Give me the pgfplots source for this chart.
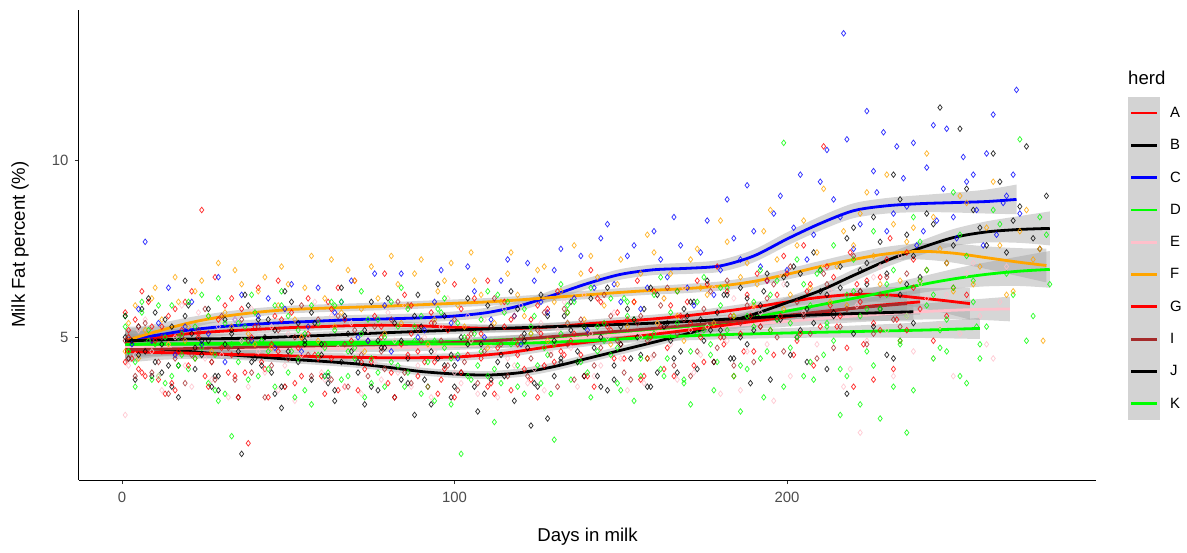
\documentclass[border=0pt]{standalone}
\usepackage{fontspec}
\setmainfont{Liberation Sans}
\usepackage{pgfplots}
\pgfplotsset{compat=1.18}
\usepgfplotslibrary{fillbetween}
\usepackage{pgfplotstable}

\definecolor{hA}{HTML}{FF0000}
\definecolor{hB}{HTML}{000000}
\definecolor{hC}{HTML}{0000FF}
\definecolor{hD}{HTML}{00FF00}
\definecolor{hE}{HTML}{FFC0CB}
\definecolor{hF}{HTML}{FFA500}
\definecolor{hG}{HTML}{FF0000}
\definecolor{hI}{HTML}{A52A2A}
\definecolor{hJ}{HTML}{000000}
\definecolor{hK}{HTML}{00FF00}
\definecolor{bandgrey}{HTML}{999999}
\definecolor{keygrey}{HTML}{D3D3D3}
\definecolor{txtgrey}{HTML}{4D4D4D}

% loess fits per herd: x, fitted value, half-width of the confidence band
\pgfplotstableread{
x y w
1 4.85 0.32
10 4.98 0.22
20 5.10 0.16
30 5.17 0.13
40 5.22 0.12
50 5.27 0.11
60 5.30 0.11
70 5.33 0.11
80 5.34 0.11
90 5.32 0.11
100 5.28 0.11
110 5.25 0.11
120 5.25 0.11
130 5.30 0.11
140 5.38 0.11
150 5.45 0.12
160 5.52 0.12
170 5.61 0.12
180 5.72 0.13
190 5.85 0.14
200 6.00 0.15
210 6.13 0.16
220 6.21 0.18
230 6.20 0.22
240 6.11 0.28
248 6.03 0.36
255 5.95 0.45
}\smA
\pgfplotstableread{
x y w
1 4.75 0.32
10 4.68 0.22
20 4.60 0.16
30 4.52 0.13
40 4.45 0.12
50 4.38 0.11
60 4.32 0.11
70 4.25 0.11
80 4.15 0.11
90 4.03 0.11
100 3.96 0.11
110 3.93 0.11
120 4.00 0.12
130 4.17 0.12
140 4.40 0.12
150 4.63 0.12
160 4.86 0.12
170 5.10 0.12
180 5.37 0.13
190 5.65 0.14
200 5.98 0.15
210 6.32 0.16
220 6.75 0.17
230 7.17 0.18
240 7.52 0.20
250 7.82 0.24
260 7.98 0.30
270 8.05 0.38
279 8.08 0.48
}\smB
\pgfplotstableread{
x y w
2 4.95 0.35
10 5.05 0.25
20 5.20 0.18
30 5.30 0.15
40 5.37 0.13
50 5.42 0.13
60 5.46 0.13
70 5.50 0.13
80 5.52 0.13
90 5.55 0.13
100 5.60 0.13
110 5.70 0.14
120 5.90 0.14
130 6.20 0.15
140 6.52 0.15
150 6.78 0.15
160 6.91 0.15
170 6.95 0.16
180 7.02 0.17
190 7.30 0.18
200 7.78 0.19
210 8.22 0.20
220 8.58 0.21
230 8.72 0.22
240 8.78 0.24
250 8.81 0.28
260 8.84 0.34
269 8.90 0.42
}\smC
\pgfplotstableread{
x y w
1 4.80 0.32
10 4.81 0.22
20 4.82 0.16
30 4.83 0.13
40 4.84 0.12
60 4.85 0.11
80 4.86 0.11
100 4.88 0.11
120 4.95 0.12
140 5.05 0.12
160 5.20 0.13
180 5.40 0.14
200 5.74 0.16
220 6.10 0.19
240 6.48 0.23
250 6.65 0.28
260 6.78 0.34
270 6.87 0.42
279 6.92 0.52
}\smD
\pgfplotstableread{
x y w
1 4.72 0.32
10 4.71 0.22
20 4.70 0.16
30 4.69 0.13
40 4.68 0.12
60 4.68 0.11
80 4.70 0.11
100 4.75 0.11
120 4.85 0.12
140 5.00 0.12
160 5.15 0.13
180 5.30 0.14
200 5.45 0.15
220 5.60 0.18
240 5.72 0.22
255 5.78 0.28
267 5.80 0.35
}\smE
\pgfplotstableread{
x y w
1 4.90 0.32
10 5.15 0.22
20 5.40 0.16
30 5.58 0.13
40 5.70 0.12
50 5.78 0.11
60 5.82 0.11
70 5.85 0.11
80 5.88 0.11
90 5.92 0.11
100 5.96 0.11
110 6.00 0.11
120 6.06 0.11
130 6.13 0.11
140 6.20 0.12
150 6.27 0.12
160 6.33 0.12
170 6.38 0.13
180 6.45 0.13
190 6.58 0.14
200 6.78 0.15
210 7.00 0.16
220 7.20 0.18
230 7.36 0.20
240 7.43 0.23
250 7.38 0.27
260 7.25 0.32
270 7.12 0.40
278 7.03 0.48
}\smF
\pgfplotstableread{
x y w
1 4.60 0.32
10 4.57 0.22
20 4.55 0.16
30 4.52 0.13
40 4.50 0.12
60 4.45 0.11
80 4.42 0.11
100 4.44 0.11
115 4.55 0.12
130 4.75 0.12
150 4.97 0.12
170 5.20 0.13
190 5.45 0.15
210 5.70 0.18
225 5.88 0.24
240 6.00 0.36
}\smG
\pgfplotstableread{
x y w
1 4.65 0.32
10 4.66 0.22
20 4.68 0.16
30 4.70 0.13
40 4.72 0.12
60 4.76 0.11
80 4.80 0.11
100 4.85 0.11
120 4.95 0.12
140 5.10 0.12
160 5.25 0.13
180 5.42 0.14
200 5.62 0.17
220 5.82 0.24
236 5.95 0.34
}\smI
\pgfplotstableread{
x y w
1 4.90 0.32
10 4.92 0.22
20 4.95 0.16
30 4.96 0.13
40 4.98 0.12
60 5.05 0.11
80 5.13 0.11
100 5.20 0.11
120 5.27 0.11
140 5.33 0.12
160 5.40 0.12
180 5.50 0.13
200 5.60 0.15
220 5.67 0.19
238 5.72 0.28
}\smJ
\pgfplotstableread{
x y w
1 4.80 0.32
10 4.80 0.22
20 4.80 0.16
30 4.80 0.13
40 4.80 0.12
60 4.80 0.11
80 4.82 0.11
100 4.81 0.11
120 4.83 0.12
140 4.90 0.12
160 5.00 0.12
180 5.07 0.13
200 5.12 0.14
220 5.16 0.17
240 5.20 0.22
258 5.25 0.30
}\smK

% band + fitted line for one herd: #1 table, #2 colour, #3 path name
\newcommand{\smoothband}[3]{%
  \addplot[draw=none, smooth, name path=#3u, forget plot] table[x=x, y expr=\thisrow{y}+\thisrow{w}]{#1};
  \addplot[draw=none, smooth, name path=#3l, forget plot] table[x=x, y expr=\thisrow{y}-\thisrow{w}]{#1};
  \addplot[fill=bandgrey, fill opacity=0.4, draw=none, forget plot] fill between[of=#3u and #3l];
  \addplot[#2, line width=2.8pt, smooth] table[x=x, y=y]{#1};
}

\pgfplotsset{herdpts/.style={only marks, mark=diamond, mark size=2.8pt,
    mark options={line width=0.75pt, draw opacity=0.8}, forget plot}}

\begin{document}
\begin{tikzpicture}
\begin{axis}[
  scale only axis, width=1017pt, height=470pt,
  xmin=-12.9, xmax=292.9, ymin=0.96, ymax=14.26,
  axis x line*=bottom, axis y line*=left,
  axis line style={line width=1pt, black},
  xtick={0,100,200}, ytick={5,10},
  tick align=outside, major tick length=4pt,
  tick style={line width=0.8pt, black!80},
  /pgf/number format/assume math mode=true,
  ticklabel style={font=\fontsize{14.9}{16}\selectfont, text=txtgrey},
  xticklabel style={yshift=-5pt},
  yticklabel style={xshift=-3pt},
  xlabel={Days in milk}, ylabel={Milk Fat percent (\%)},
  label style={font=\fontsize{18.6}{20}\selectfont},
  xlabel style={at={(axis description cs:0.5,0)}, anchor=center, yshift=-57pt},
  ylabel style={at={(axis description cs:-0.058,0.501)}, anchor=center},
  legend cell align=left,
  legend style={at={(axis description cs:1.0315,0.8152)}, anchor=north west,
    draw=none, fill=none, inner sep=0pt, outer sep=0pt, row sep=0pt, column sep=10pt,
    font=\fontsize{14.9}{16}\selectfont, nodes={inner sep=0pt, outer sep=0pt}},
  legend image code/.code={%
    \path[fill=keygrey, draw=none, overlay] (0pt,-16.4pt) rectangle (32pt,16.4pt);
    \path[draw=none, fill=none] (0pt,-16.15pt) rectangle (32pt,16.15pt);
    \draw[#1, line width=2.8pt] (3pt,0pt) -- (29pt,0pt);
  },
]
% ---- observations ----
\addplot[herdpts, hA] coordinates {(2,5.2) (5,4.1) (8,6.0) (11,3.8) (14,5.6) (17,4.6) (21,6.3) (24,8.6) (27,4.3) (31,5.9) (34,3.9) (38,2.0) (41,6.4) (45,4.8) (48,5.5) (52,3.7) (56,6.1) (59,4.4) (63,5.8) (67,3.6) (70,6.6) (74,4.9) (78,5.3) (81,4.0) (85,6.2) (89,4.6) (93,5.7) (96,3.8) (100,6.5) (104,4.5) (108,5.1) (111,3.7) (115,6.0) (119,4.8) (123,5.5) (127,4.2) (131,6.3) (135,4.9) (139,3.9) (143,6.1) (147,5.2) (151,4.4) (155,6.6) (159,5.0) (163,4.1) (167,6.3) (171,5.4) (175,4.3) (179,7.0) (183,5.6) (187,4.6) (191,6.8) (195,5.2) (199,7.3) (203,4.9) (207,6.5) (211,10.4) (215,5.3) (219,7.4) (223,4.8) (228,6.7) (233,5.5) (238,7.2) (244,4.9) (250,6.4)
 (1,5.7) (3,4.4) (6,6.3) (9,4.9) (12,5.3) (16,3.5) (19,6.0) (23,5.0) (28,6.7) (33,4.5) (36,5.8) (43,4.1) (47,6.6) (54,5.0) (61,3.4) (65,6.4) (72,4.3) (79,6.8) (87,5.1) (94,4.3) (102,5.8) (110,6.6) (117,3.5) (125,5.9) (133,4.5) (141,6.9) (149,5.7) (157,3.9) (165,5.9) (173,6.6) (181,4.8) (189,5.6) (197,6.2) (205,7.6) (213,5.9) (221,6.5) (226,3.8) (231,7.8) (236,5.2) (242,6.9) (248,5.6) (254,6.2)};
\addplot[herdpts, hB] coordinates {(2,4.4) (5,5.3) (9,3.9) (12,4.8) (15,3.6) (19,5.6) (22,4.1) (26,4.9) (29,3.5) (33,5.2) (36,1.7) (39,4.3) (43,5.0) (46,3.4) (50,4.6) (53,5.4) (57,3.8) (60,4.5) (64,3.2) (68,5.1) (71,4.0) (75,3.6) (79,4.7) (82,3.3) (86,4.4) (90,5.3) (93,3.1) (97,4.2) (100,3.6) (104,4.8) (107,2.9) (111,3.8) (114,4.5) (118,3.2) (121,4.9) (125,3.6) (128,2.7) (132,4.3) (135,5.2) (139,3.9) (142,4.7) (146,3.5) (150,5.3) (153,4.4) (157,5.8) (161,4.0) (164,5.4) (168,4.6) (172,6.0) (175,4.9) (179,5.7) (183,4.4) (186,6.4) (190,5.2) (194,6.8) (198,5.5) (202,7.0) (206,5.8) (210,6.9) (214,5.6) (218,7.8) (222,6.3) (226,8.4) (230,6.8) (234,8.9) (238,7.3) (242,8.5) (246,11.5) (250,7.6) (254,9.2) (258,8.1) (262,10.2) (266,7.4) (270,8.7) (274,7.8) (278,9.0)
 (1,5.0) (4,3.8) (7,4.6) (10,5.7) (14,4.2) (17,3.3) (21,5.1) (24,4.5) (28,3.9) (31,4.8) (35,3.3) (41,5.5) (45,4.0) (48,3.0) (55,4.9) (62,3.7) (66,4.3) (73,3.1) (77,4.9) (84,3.8) (88,2.8) (95,4.4) (99,3.3) (102,4.0) (109,3.4) (116,4.2) (123,2.5) (130,3.9) (137,4.6) (144,3.6) (148,4.2) (155,5.0) (159,3.6) (166,4.4) (170,5.6) (177,5.2) (181,6.2) (188,4.8) (192,5.9) (200,6.5) (204,5.2) (208,7.4) (212,6.2) (216,7.0) (220,8.1) (224,6.5) (228,7.7) (232,9.6) (236,7.9) (240,6.7) (244,8.2) (248,7.1) (252,10.9) (256,8.6) (260,7.6) (264,9.4) (268,8.3) (272,10.4) (276,7.5)};
\addplot[herdpts, hC] coordinates {(3,4.8) (7,7.7) (11,5.4) (16,4.5) (21,6.0) (26,5.1) (31,4.3) (36,6.2) (41,5.6) (46,4.7) (51,6.5) (56,5.3) (61,3.9) (66,6.0) (71,5.0) (76,6.8) (81,4.6) (86,5.9) (91,5.2) (96,6.9) (101,4.4) (106,6.3) (111,5.5) (116,7.2) (120,4.8) (124,6.6) (128,5.7) (132,7.5) (136,6.1) (140,5.2) (144,7.8) (148,6.5) (152,7.3) (156,5.8) (160,8.0) (164,6.7) (168,7.6) (172,5.9) (176,8.3) (180,6.9) (184,7.8) (188,9.3) (192,7.0) (196,8.5) (200,6.9) (204,9.6) (208,7.9) (212,10.3) (216,8.4) (217,13.6) (220,7.5) (224,11.4) (227,9.1) (230,8.0) (233,10.4) (236,8.7) (239,7.6) (242,9.8) (245,8.3) (248,10.9) (251,7.8) (254,9.4) (257,8.6) (260,10.2) (263,7.9) (266,9.0) (269,12.0) (270,8.5)
 (5,5.8) (9,4.9) (14,6.4) (19,5.3) (24,4.8) (29,6.7) (34,5.5) (39,4.9) (44,6.1) (49,5.8) (54,4.6) (59,6.4) (64,5.7) (69,6.6) (74,4.9) (79,5.9) (84,6.8) (89,5.0) (94,6.0) (99,5.4) (104,7.0) (109,5.0) (114,6.6) (118,5.6) (122,7.1) (126,6.0) (130,6.9) (134,5.4) (138,7.3) (142,6.4) (146,8.2) (150,6.0) (154,7.6) (158,6.4) (162,7.2) (166,8.4) (170,6.4) (174,7.4) (178,6.2) (182,8.9) (186,7.2) (190,8.0) (194,6.6) (198,9.0) (202,8.1) (206,7.2) (210,9.4) (214,8.9) (218,10.6) (222,8.2) (226,9.7) (229,10.8) (232,8.5) (235,9.5) (238,10.5) (241,8.0) (244,11.0) (247,9.2) (250,8.4) (253,10.1) (256,9.6) (259,7.6) (262,11.3) (265,8.8) (268,9.6)};
\addplot[herdpts, hD] coordinates {(1,5.6) (4,4.3) (8,5.2) (11,3.9) (15,5.9) (18,4.5) (22,5.3) (26,3.7) (29,6.1) (33,2.2) (37,4.9) (40,5.7) (44,4.1) (48,6.3) (51,4.6) (55,3.5) (59,5.4) (62,4.0) (66,6.0) (70,4.7) (73,3.3) (77,5.5) (81,4.3) (84,6.4) (88,4.9) (92,3.6) (95,5.8) (99,4.4) (102,1.7) (106,5.1) (110,3.9) (113,6.2) (117,4.8) (121,3.4) (124,5.6) (128,4.5) (132,6.5) (135,3.8) (139,5.3) (143,4.6) (147,6.1) (150,3.5) (154,5.5) (158,4.4) (162,6.7) (165,5.0) (169,3.7) (173,6.0) (177,4.8) (180,5.9) (184,5.6) (188,4.1) (192,6.9) (195,5.2) (199,10.5) (203,7.2) (207,5.9) (211,4.5) (214,7.6) (218,6.2) (222,3.1) (226,8.0) (230,6.5) (234,4.8) (238,8.4) (242,6.9) (246,5.2) (250,9.1) (254,7.3) (258,4.4) (262,8.6) (266,6.8) (270,10.6) (274,5.6) (278,7.9)
 (2,4.6) (6,6.0) (10,4.8) (13,3.7) (17,5.0) (20,4.1) (24,6.2) (28,4.5) (31,3.4) (35,5.4) (38,3.8) (42,4.9) (46,5.9) (50,4.0) (53,5.2) (57,3.1) (61,4.7) (64,5.9) (68,3.9) (72,5.1) (75,4.4) (79,3.6) (83,5.3) (86,4.0) (90,5.6) (94,3.2) (97,4.7) (101,5.4) (104,3.9) (108,4.6) (112,2.6) (115,5.7) (119,4.2) (123,5.1) (126,3.7) (130,4.8) (134,5.9) (137,4.3) (141,3.3) (145,5.4) (149,4.7) (152,6.0) (156,3.9) (160,5.1) (164,4.4) (167,6.3) (171,3.1) (175,5.2) (179,4.3) (182,6.4) (186,2.9) (190,5.3) (194,4.6) (197,6.6) (201,5.4) (205,3.9) (209,6.8) (212,5.3) (216,4.1) (220,7.2) (224,5.8) (228,2.7) (232,6.9) (236,5.6) (240,7.7) (244,6.2) (248,4.6) (252,7.9) (256,6.6) (260,5.3) (264,8.2) (268,6.2) (272,4.9) (276,8.4) (279,6.5)};
\addplot[herdpts, hE] coordinates {(1,2.8) (4,4.5) (7,5.5) (11,3.9) (14,4.8) (18,5.9) (21,3.6) (25,4.4) (29,5.3) (32,3.3) (36,4.9) (39,5.8) (43,4.0) (47,3.5) (50,5.1) (54,4.5) (58,6.0) (61,3.8) (65,4.7) (69,5.4) (72,3.4) (76,4.3) (80,5.7) (83,4.0) (87,3.6) (91,5.0) (94,4.6) (98,6.1) (102,3.7) (105,4.9) (109,5.5) (113,3.3) (116,4.4) (120,5.9) (124,4.1) (127,3.5) (131,5.2) (135,4.7) (139,6.2) (142,3.9) (146,5.0) (150,4.4) (154,6.0) (157,3.7) (161,5.4) (165,4.8) (169,6.4) (172,4.0) (176,5.3) (180,3.4) (184,6.1) (188,4.6) (192,5.7) (196,3.2) (199,6.5) (203,5.0) (207,4.3) (211,7.0) (215,5.5) (219,4.1) (222,2.3) (226,6.7) (230,5.2) (234,7.3) (238,4.6) (242,6.1) (246,5.3) (250,3.9) (254,6.8) (258,5.6) (262,4.4) (266,7.0)
 (2,4.2) (5,5.2) (9,4.6) (12,3.5) (16,5.0) (19,4.2) (23,5.7) (27,3.8) (30,4.5) (34,5.5) (38,3.6) (41,4.6) (45,5.3) (49,4.2) (52,3.2) (56,5.0) (60,4.0) (63,5.6) (67,3.6) (71,4.6) (74,5.2) (78,3.8) (82,4.9) (85,5.9) (89,4.2) (93,3.3) (96,5.3) (100,4.0) (104,5.6) (107,3.4) (111,4.7) (115,5.8) (118,4.2) (122,3.7) (126,5.4) (129,4.6) (133,6.0) (137,3.6) (141,5.1) (144,4.2) (148,5.7) (152,3.5) (156,5.0) (159,4.4) (163,6.1) (167,3.8) (171,5.2) (174,4.5) (178,6.4) (182,4.9) (186,3.5) (190,5.8) (194,4.8) (198,6.8) (201,3.9) (205,5.7) (209,4.8) (213,6.3) (217,3.6) (221,5.9) (224,4.9) (228,7.0) (232,3.9) (236,5.6) (240,6.5) (244,4.4) (248,6.2) (252,5.1) (256,7.1) (260,4.8) (264,6.0)};
\addplot[herdpts, hF] coordinates {(1,4.6) (4,5.9) (7,5.2) (10,6.4) (14,4.8) (17,6.0) (20,5.3) (24,6.6) (27,4.6) (31,5.7) (34,6.9) (38,5.1) (41,6.3) (45,4.7) (48,7.0) (52,5.5) (55,6.4) (59,4.9) (63,7.2) (66,5.7) (70,6.6) (73,4.6) (77,6.1) (81,7.3) (84,5.4) (88,6.8) (92,4.8) (95,6.3) (99,7.1) (103,5.3) (106,6.6) (110,4.7) (114,6.0) (117,7.4) (121,5.6) (125,6.9) (128,4.9) (132,6.3) (136,7.6) (139,5.5) (143,6.7) (147,4.8) (150,7.2) (154,6.0) (158,7.9) (161,5.4) (165,6.8) (169,4.9) (173,7.5) (176,6.2) (180,8.3) (184,5.6) (188,7.1) (191,6.5) (195,8.6) (199,5.8) (203,7.6) (207,6.4) (211,9.2) (215,7.0) (218,5.9) (222,8.5) (226,7.3) (230,9.6) (234,6.6) (238,8.1) (242,10.2) (246,7.5) (250,6.3) (254,8.8) (258,7.0) (262,9.4) (266,6.2) (270,8.0) (274,7.2) (277,4.9)
 (2,5.4) (5,4.4) (9,6.1) (12,5.5) (16,6.7) (19,4.9) (22,6.3) (26,5.6) (29,7.1) (33,5.3) (36,6.5) (40,4.8) (43,6.7) (47,5.9) (50,6.5) (54,5.0) (57,7.3) (61,6.1) (64,5.3) (68,6.9) (72,5.8) (75,7.0) (79,5.1) (83,6.5) (86,5.9) (90,7.2) (94,5.5) (97,6.6) (101,5.9) (105,7.4) (108,6.2) (112,5.4) (116,6.8) (119,6.2) (123,5.1) (127,7.0) (130,6.0) (134,5.4) (138,6.8) (141,7.3) (145,5.9) (149,6.5) (152,5.3) (156,6.8) (160,7.4) (163,6.1) (167,5.6) (171,7.2) (174,6.4) (178,5.4) (182,7.7) (186,6.7) (190,5.9) (193,8.0) (197,7.2) (201,6.2) (205,8.3) (209,7.4) (213,6.0) (217,8.0) (220,7.6) (224,9.1) (228,6.5) (232,8.2) (236,7.7) (240,6.6) (244,8.4) (248,7.1) (252,9.0) (256,6.5) (260,8.1) (264,7.6) (268,6.3) (272,8.6) (276,7.5)};
\addplot[herdpts, hG] coordinates {(1,4.3) (4,5.5) (7,3.9) (10,4.9) (13,3.4) (16,5.8) (20,4.2) (23,5.1) (26,3.6) (30,4.7) (33,6.1) (37,4.0) (40,5.3) (44,3.3) (47,4.6) (51,5.7) (54,3.9) (58,4.5) (62,6.0) (65,3.5) (69,4.9) (73,4.1) (76,5.6) (80,3.7) (84,4.8) (87,5.9) (91,4.3) (95,3.4) (98,5.2) (102,4.0) (106,6.1) (110,3.6) (113,4.7) (117,5.5) (121,4.1) (125,3.3) (128,5.8) (132,4.6) (136,5.1) (140,3.9) (144,6.0) (148,4.4) (152,5.5) (156,3.8) (160,6.3) (164,4.7) (168,5.6) (172,4.2) (176,6.5) (180,5.0) (184,3.9) (188,6.2) (192,5.3) (196,4.5) (200,6.8) (204,5.1) (208,4.2) (212,7.0) (216,5.6) (220,3.6) (224,6.6) (228,5.2) (232,4.1) (236,7.4) (240,5.8)
 (2,5.0) (6,4.0) (9,5.3) (12,4.6) (15,3.7) (18,5.2) (22,4.4) (25,3.9) (29,5.5) (32,4.0) (35,3.3) (39,5.0) (42,4.3) (46,5.6) (49,3.6) (53,4.7) (56,5.1) (60,3.9) (63,4.4) (67,5.5) (71,3.5) (75,4.3) (78,5.0) (82,3.3) (86,4.5) (89,3.9) (93,5.4) (97,4.1) (100,3.3) (104,5.0) (108,4.4) (112,3.4) (115,5.3) (119,4.5) (123,3.8) (126,5.1) (130,4.3) (134,5.7) (138,4.5) (142,3.6) (146,5.3) (150,4.8) (154,6.0) (158,4.4) (162,5.3) (166,3.9) (170,6.0) (174,5.0) (178,4.3) (182,6.3) (186,5.1) (190,4.6) (194,6.6) (198,5.6) (202,4.5) (206,6.3) (210,5.3) (214,6.7) (218,4.7) (222,6.0) (226,5.4) (230,7.2) (234,4.9) (238,6.4)};
\addplot[herdpts, hI] coordinates {(1,4.9) (4,3.9) (7,5.4) (11,4.3) (14,3.4) (18,5.0) (21,4.5) (25,5.8) (28,3.8) (32,4.7) (36,5.5) (39,4.0) (43,3.3) (47,5.2) (50,4.4) (54,5.9) (57,3.9) (61,4.8) (65,5.6) (68,3.6) (72,4.5) (76,5.3) (79,4.1) (83,6.0) (87,3.7) (90,4.9) (94,5.4) (98,4.2) (101,3.5) (105,5.1) (109,4.6) (112,6.1) (116,3.9) (120,5.0) (123,4.4) (127,5.7) (131,3.6) (134,4.8) (138,5.5) (142,4.2) (145,6.2) (149,4.9) (153,3.8) (156,5.6) (160,4.5) (164,6.4) (167,5.1) (171,3.9) (175,5.8) (179,4.7) (182,6.6) (186,5.4) (190,4.3) (194,6.1) (197,5.0) (201,7.0) (205,5.6) (209,4.4) (212,6.5) (216,5.3) (220,7.3) (224,4.8) (228,6.2) (232,5.5) (236,6.8)
 (2,4.4) (5,5.3) (9,4.0) (12,5.0) (16,4.4) (19,3.7) (23,5.2) (27,4.3) (30,5.6) (34,3.8) (38,4.9) (41,5.3) (45,4.2) (49,3.6) (52,5.0) (56,4.5) (59,5.5) (63,3.8) (67,4.8) (70,5.2) (74,3.9) (78,4.6) (81,5.5) (85,4.0) (89,5.2) (92,3.6) (96,4.9) (100,5.5) (103,4.3) (107,3.7) (111,5.3) (114,4.8) (118,5.6) (122,3.9) (125,5.2) (129,4.5) (133,5.8) (136,3.8) (140,5.1) (144,4.7) (147,5.6) (151,4.0) (155,5.4) (158,4.9) (162,5.9) (166,4.2) (169,5.5) (173,4.6) (177,6.3) (181,5.0) (184,4.2) (188,5.9) (192,5.3) (196,6.5) (199,4.6) (203,6.0) (207,5.1) (211,6.8) (214,4.7) (218,5.8) (222,6.3) (226,5.1) (230,6.7) (234,5.3)};
\addplot[herdpts, hJ] coordinates {(1,5.6) (5,4.5) (8,6.1) (12,4.0) (15,5.3) (19,6.6) (22,4.7) (26,5.8) (29,3.9) (33,5.1) (37,6.2) (40,4.4) (44,5.5) (48,3.6) (51,6.0) (55,4.8) (58,5.4) (62,3.9) (66,6.4) (69,4.6) (73,5.2) (77,3.5) (80,6.1) (84,4.9) (88,5.6) (91,3.8) (95,6.5) (99,4.5) (102,5.0) (106,3.6) (110,5.9) (113,4.3) (117,6.3) (121,5.1) (124,3.7) (128,5.6) (132,4.4) (135,6.0) (139,5.3) (143,3.9) (146,6.4) (150,4.8) (154,5.5) (158,3.6) (161,6.2) (165,4.9) (169,5.8) (173,4.1) (176,6.6) (180,5.2) (184,4.4) (188,6.1) (191,5.6) (195,3.8) (199,6.7) (203,5.0) (206,4.3) (210,6.3) (214,5.7) (218,3.4) (222,6.9) (226,5.3) (230,4.5) (234,6.2) (238,5.4)
 (3,4.9) (6,5.8) (10,4.3) (13,5.5) (17,4.2) (20,5.9) (24,4.9) (27,3.6) (31,5.5) (35,4.6) (38,5.9) (42,4.2) (46,5.2) (49,6.3) (53,4.3) (57,5.7) (60,4.8) (64,3.5) (67,5.6) (71,4.3) (75,6.0) (78,4.7) (82,5.4) (86,3.7) (89,6.2) (93,4.6) (97,5.6) (100,4.2) (104,6.1) (108,4.8) (111,5.3) (115,3.9) (119,5.8) (122,4.7) (126,6.2) (130,4.9) (133,5.6) (137,4.3) (141,6.1) (144,5.0) (148,3.8) (152,5.8) (156,4.5) (159,6.4) (163,5.3) (167,4.0) (171,6.0) (174,5.5) (178,4.3) (182,6.2) (186,5.0) (189,3.7) (193,6.3) (197,5.5) (201,4.5) (204,6.8) (208,5.4) (212,4.1) (216,6.4) (220,5.1) (224,7.1) (228,5.8) (232,4.4) (236,6.5)};
\addplot[herdpts, hK] coordinates {(2,4.6) (6,5.7) (9,3.8) (13,5.0) (17,4.2) (20,6.0) (24,4.7) (28,3.5) (31,5.4) (35,4.3) (39,6.2) (42,4.9) (46,3.6) (50,5.6) (53,4.4) (57,5.9) (61,3.9) (64,5.2) (68,4.6) (72,6.3) (75,3.7) (79,5.0) (83,4.2) (86,5.8) (90,3.4) (94,4.9) (97,6.1) (101,4.5) (105,3.8) (108,5.5) (112,4.1) (116,6.0) (119,3.6) (123,5.3) (127,4.7) (130,2.1) (134,5.7) (138,4.3) (141,6.4) (145,4.9) (149,3.7) (152,5.6) (156,4.4) (160,6.2) (163,3.9) (167,5.4) (171,4.6) (175,6.7) (178,3.5) (182,5.2) (186,4.2) (190,6.0) (193,3.3) (197,5.5) (201,4.7) (205,6.5) (208,3.8) (212,5.4) (216,2.8) (220,6.3) (224,4.6) (228,5.8) (232,3.6) (236,2.3) (240,6.6) (244,4.4) (248,5.5) (252,3.9) (256,6.0) (258,4.8)
 (1,5.3) (4,3.6) (8,4.9) (11,5.9) (15,3.9) (18,5.1) (22,4.4) (26,5.6) (29,3.2) (33,4.8) (37,5.3) (41,3.9) (44,4.6) (48,5.9) (52,3.3) (55,5.1) (59,4.5) (63,6.0) (66,3.8) (70,4.4) (74,5.5) (77,4.0) (81,6.0) (85,3.6) (88,5.3) (92,4.3) (96,5.7) (99,3.1) (103,5.0) (107,4.2) (110,6.3) (114,3.7) (118,4.9) (121,5.8) (125,4.2) (129,3.4) (132,5.1) (136,6.0) (140,4.0) (143,5.3) (147,4.5) (151,6.1) (154,3.2) (158,5.0) (162,4.1) (165,5.7) (169,3.8) (173,5.1) (177,4.5) (180,6.4) (184,3.9) (188,5.6) (192,4.4) (195,6.2) (199,3.6) (203,5.0) (207,4.3) (210,6.9) (214,4.9) (218,3.9) (222,5.6) (226,4.2) (230,6.2) (234,4.9) (238,3.5) (242,5.9) (246,4.7) (250,6.4) (254,3.7) (257,5.3)};
% ---- smoothed trends with confidence bands ----
\smoothband{\smA}{hA}{A}
\smoothband{\smB}{hB}{B}
\smoothband{\smC}{hC}{C}
\smoothband{\smD}{hD}{D}
\smoothband{\smE}{hE}{E}
\smoothband{\smF}{hF}{F}
\smoothband{\smG}{hG}{G}
\smoothband{\smI}{hI}{I}
\smoothband{\smJ}{hJ}{J}
\smoothband{\smK}{hK}{K}
\legend{A,B,C,D,E,F,G,I,J,K}
\end{axis}
\path (current axis.north west) ++(1049pt,-68pt) node[anchor=west, inner sep=0pt, font=\fontsize{18.6}{20}\selectfont] {herd};
\path (current axis.south west) ++(-79pt,-72pt) rectangle ++(1187pt,552pt);
\end{tikzpicture}
\end{document}
